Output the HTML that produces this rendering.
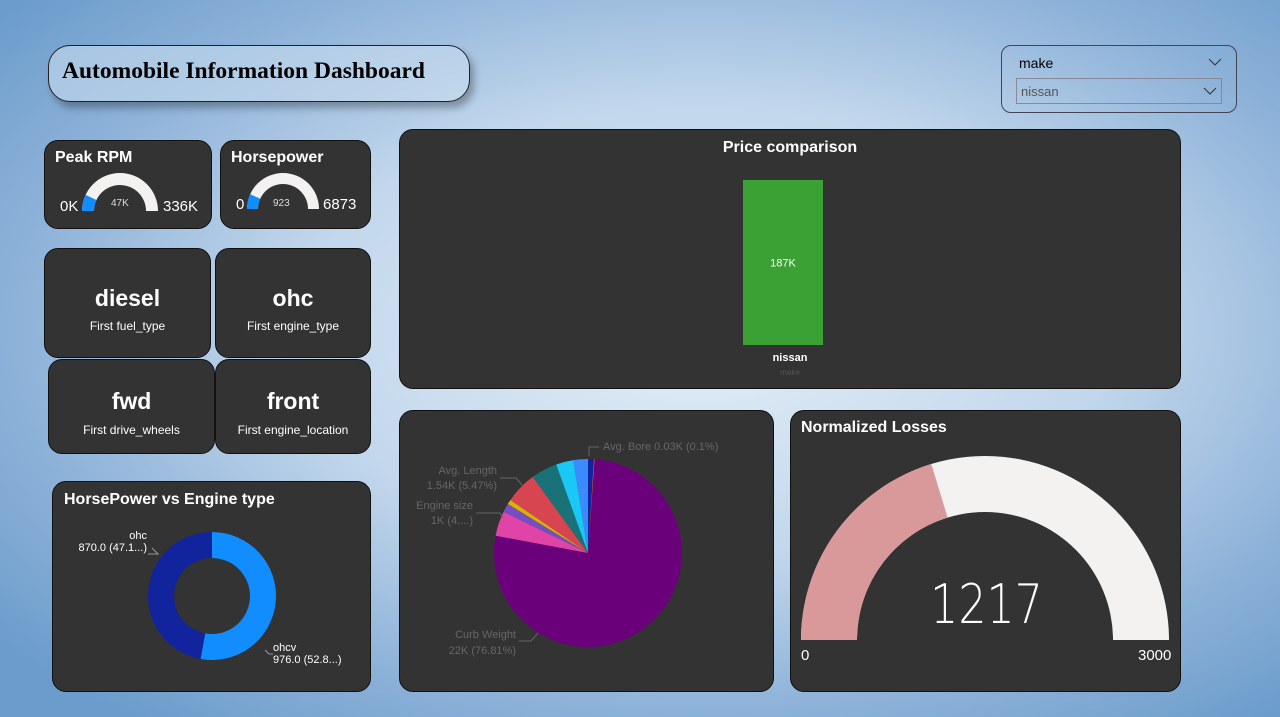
<!DOCTYPE html>
<html><head><meta charset="utf-8"><style>
body{margin:0;width:1280px;height:717px;overflow:hidden;font-family:"Liberation Sans","DejaVu Sans",sans-serif;
background:radial-gradient(ellipse 900px 500px at 700px 330px,#e4eef7 0%,#c2d7ec 45%,#8fb3d9 75%,#6b9ccb 100%);position:relative}
.card{position:absolute;background:#333;border:1px solid #111;border-radius:14px;box-sizing:border-box;color:#fff}
.t{position:absolute;font-weight:bold;font-size:16px;color:#fff}
.big{position:absolute;width:100%;text-align:center;font-size:23px;font-weight:bold;top:36px}
.sm{position:absolute;width:100%;text-align:center;font-size:12px;top:70px}
svg{position:absolute;left:0;top:0}
</style></head><body>
<div style="position:absolute;left:48px;top:45px;width:422px;height:57px;border:1px solid #222;border-radius:22px;box-sizing:border-box;background:rgba(200,220,238,0.6);box-shadow:4px 6px 8px rgba(0,0,0,0.3);font-family:'Liberation Serif',serif;font-weight:bold;font-size:23.5px;padding:12px 0 0 13px">Automobile Information Dashboard</div>
<div style="position:absolute;left:1001px;top:45px;width:236px;height:68px;border:1px solid #445;border-radius:10px;box-sizing:border-box">
<div style="position:absolute;left:17px;top:9px;font-size:14px">make</div>
<svg width="14" height="8" style="left:206px;top:12px"><path d="M1,1L7,7L13,1" stroke="#333" fill="none"/></svg>
<div style="position:absolute;left:14px;top:32px;width:206px;height:26px;border:1px solid #889;box-sizing:border-box;font-size:13px;color:#555;padding:5px 0 0 4px">nissan<svg width="14" height="8" style="left:186px;top:8px"><path d="M1,1L7,7L13,1" stroke="#333" fill="none"/></svg></div></div>

<div class="card" style="left:44px;top:140px;width:168px;height:89px"><div class="t" style="left:10px;top:8px">Peak RPM</div>
<div style="position:absolute;left:15px;top:57px;font-size:15px">0K</div><div style="position:absolute;left:118px;top:57px;font-size:15px">336K</div>
<div style="position:absolute;left:66px;top:57px;font-size:10px;color:#ddd">47K</div></div>
<div class="card" style="left:220px;top:140px;width:151px;height:89px"><div class="t" style="left:10px;top:8px">Horsepower</div>
<div style="position:absolute;left:15px;top:55px;font-size:15px">0</div><div style="position:absolute;left:102px;top:55px;font-size:15px">6873</div>
<div style="position:absolute;left:52px;top:57px;font-size:10px;color:#ddd">923</div></div>

<div class="card" style="left:44px;top:248px;width:167px;height:110px"><div class="big">diesel</div><div class="sm">First fuel_type</div></div>
<div class="card" style="left:215px;top:248px;width:156px;height:110px"><div class="big">ohc</div><div class="sm">First engine_type</div></div>
<div class="card" style="left:48px;top:359px;width:167px;height:95px"><div class="big" style="top:28px">fwd</div><div class="sm" style="top:63px">First drive_wheels</div></div>
<div class="card" style="left:215px;top:359px;width:156px;height:95px"><div class="big" style="top:28px">front</div><div class="sm" style="top:63px">First engine_location</div></div>

<div class="card" style="left:52px;top:481px;width:319px;height:211px"><div class="t" style="left:11px;top:9px">HorsePower vs Engine type</div>
<div style="position:absolute;left:24px;top:48px;font-size:11px;text-align:right;width:70px">ohc<br>870.0 (47.1...)</div>
<div style="position:absolute;left:220px;top:160px;font-size:11px">ohcv<br>976.0 (52.8...)</div></div>

<div class="card" style="left:399px;top:129px;width:782px;height:260px"><div class="t" style="left:0;width:100%;text-align:center;top:9px">Price comparison</div>
<div style="position:absolute;left:0;width:100%;text-align:center;top:222px;font-size:11px;font-weight:bold">nissan</div>
<div style="position:absolute;left:0;width:100%;text-align:center;top:238px;font-size:8px;color:#555">make</div></div>

<div class="card" style="left:399px;top:410px;width:375px;height:282px"></div>
<div class="card" style="left:790px;top:410px;width:391px;height:282px"><div class="t" style="left:10px;top:8px">Normalized Losses</div>
<div style="position:absolute;left:10px;top:236px;font-size:15px">0</div><div style="position:absolute;left:347px;top:236px;font-size:15px">3000</div>
<div style="position:absolute;left:0;width:391px;text-align:center;top:162px;font-size:54px;font-family:'DejaVu Sans',sans-serif;font-weight:200;transform:scaleX(0.82)">1217</div></div>

<svg id="s" width="1280" height="717"></svg>
<script>
// data
const priceCategories=["nissan"];
const priceValues=[187];
const priceLabels=["187K"];
const pieNames=["Curb Weight","Engine size","Bore2","Stroke","Avg. Length","Width","Height","Wheelbase","Compression","Avg. Bore"];
const pieValues=[76.81,4.3,1.5,0.8,5.47,4.5,3,2.5,1,0.1];
const pieColors=["#6B007B","#E044A7","#744EC2","#D9B300","#D64550","#197278","#1AC8F5","#3B8BFF","#1621A0","#E66C37"];
const donutNames=["ohcv","ohc"];
const donutValues=[976,870];
const gaugeRPM=[47,336];
const gaugeHP=[923,6873];
const gaugeLoss=[1217,3000];

const NS="http://www.w3.org/2000/svg",S=document.getElementById('s');
function mk(t,a){const e=document.createElementNS(NS,t);for(const k in a)e.setAttribute(k,a[k]);S.appendChild(e);return e;}
function pt(cx,cy,r,ang){return [cx+r*Math.sin(ang),cy-r*Math.cos(ang)];}
function ring(cx,cy,ro,ri,a0,a1){const L=(a1-a0)>Math.PI?1:0;const p1=pt(cx,cy,ro,a0),p2=pt(cx,cy,ro,a1),p3=pt(cx,cy,ri,a1),p4=pt(cx,cy,ri,a0);
return `M${p1}L${p1}A${ro},${ro} 0 ${L} 1 ${p2}L${p3}`+(ri>0?`A${ri},${ri} 0 ${L} 0 ${p4}`:'')+'Z';}
function gauge(cx,cy,ro,ri,v,max,fill,name){
 let e=mk('path',{d:ring(cx,cy,ro,ri,-Math.PI/2,Math.PI/2),fill:'#F3F2F1'});
 
 
 e=mk('path',{d:ring(cx,cy,ro,ri,-Math.PI/2,-Math.PI/2+Math.PI*v/max),fill:fill});
 
 
}
gauge(120,211,38,26,gaugeRPM[0],gaugeRPM[1],'#118DFF','peak-rpm-gauge');
gauge(283,209,36,25,gaugeHP[0],gaugeHP[1],'#118DFF','horsepower-gauge');
gauge(985,640,184,128,gaugeLoss[0],gaugeLoss[1],'#D9999B','losses-gauge');

// bar
const y0=345,yScale=v=>y0-v*(165/187);
priceValues.forEach((v,i)=>{const b=mk('rect',{x:743,y:yScale(v),width:80,height:y0-yScale(v),fill:'#3CA135'});


const t=mk('text',{x:783,y:(yScale(v)+y0)/2+4,'text-anchor':'middle',fill:'#fff','font-size':11});t.textContent=priceLabels[i];

});

// pie
let tot=pieValues.reduce((a,b)=>a+b,0),a=0.07;
pieValues.forEach((v,i)=>{const a1=a+v/tot*2*Math.PI;const p=mk('path',{d:ring(588,553,94,0,a,a1),fill:pieColors[i]});

a=a1;});
[["Avg. Bore 0.03K (0.1%)",603,450,'start'],["Avg. Length",497,474,'end'],["1.54K (5.47%)",497,489,'end'],["Engine size",473,509,'end'],["1K (4....)",473,524,'end'],["Curb Weight",516,638,'end'],["22K (76.81%)",516,654,'end']].forEach(l=>{
const t=mk('text',{x:l[1],y:l[2],'text-anchor':l[3],fill:'#666','font-size':11});t.textContent=l[0];

});
mk('path',{d:'M589,456V447h10M500,478h16l7,8M476,513h24l3,5M519,641h12l7,-8',stroke:'#666',fill:'none'});

// donut
let dt=donutValues.reduce((a,b)=>a+b,0),da=0,dc=["#118DFF","#12239E"];
donutValues.forEach((v,i)=>{const a1=da+v/dt*2*Math.PI;const p=mk('path',{d:ring(212,596,64,38,da,a1-0.0001),fill:dc[i]});

da=a1;});
mk('path',{d:'M152,548l6,6h-10M265,650l4,4h4',stroke:'#999',fill:'none'});
</script>
</body></html>
